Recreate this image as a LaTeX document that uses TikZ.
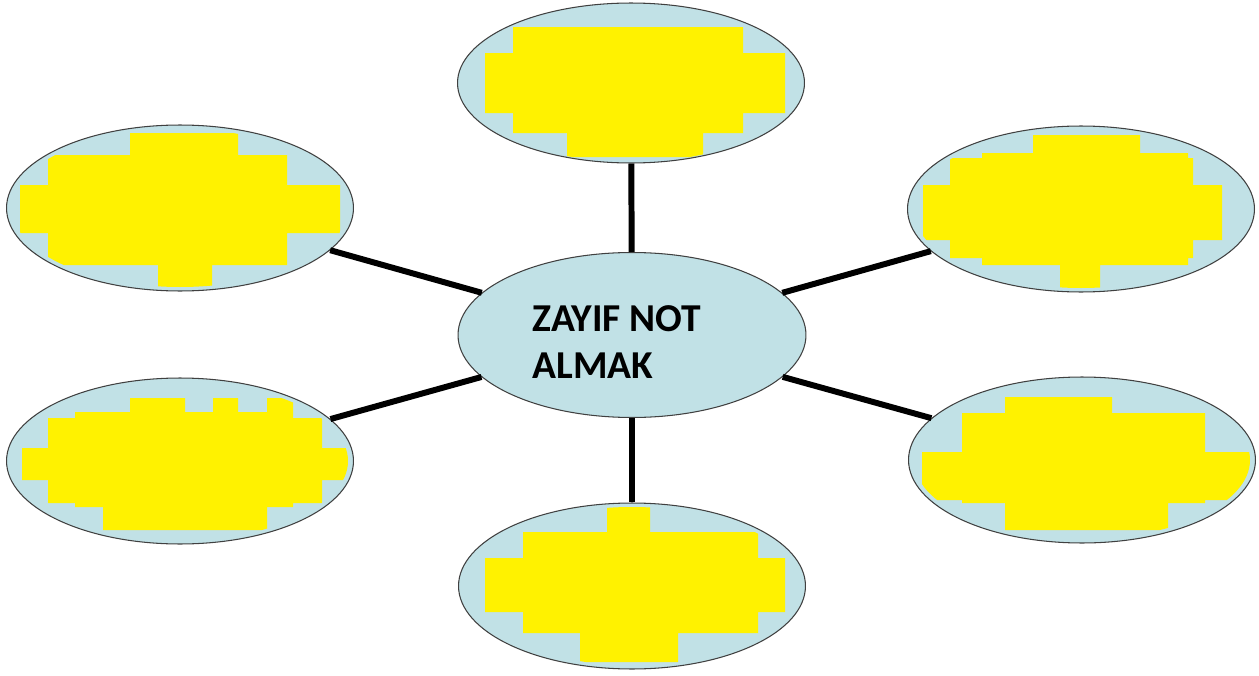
\documentclass[tikz,border=0pt]{standalone}
\usepackage{fontspec}
\setmainfont{Carlito}
\usetikzlibrary{shapes.geometric,positioning}
\definecolor{bubblecolor}{RGB}{193,225,230}
\definecolor{blobcolor}{RGB}{255,242,0}
\tikzset{
  bubble/.style={
    ellipse,
    draw=black!75,
    fill=bubblecolor,
    line width=0.6pt,
    inner sep=0pt,
    minimum width=6.94cm,
    minimum height=3.32cm
  },
  spoke/.style={
    draw=black,
    line width=3.4pt
  },
  blob/.style={
    fill=blobcolor
  }
}
% clip to the inside of a bubble
\newcommand{\bubbleclip}[1]{\clip (#1.center) ellipse [x radius=168, y radius=79];}
\begin{document}
\begin{tikzpicture}[x=0.02cm,y=-0.02cm]
  \useasboundingbox (0,0) rectangle (1259,676);

  % Centre
  \node[bubble, minimum width=6.96cm, minimum height=3.3cm] (c) at (632,335) {};
  \node[font=\bfseries\fontsize{22.5}{27}\selectfont, align=left, anchor=west,
    inner sep=0pt] (ctext) at (532,342) {ZAYIF NOT\\ALMAK};

  % Outer bubbles
  \node[bubble, minimum height=3.2cm] (t) at (631,83) {};
  \node[bubble] (tl) at (180,208) {};
  \node[bubble] (tr) at (1081,209) {};
  \node[bubble] (bl) at (180,461) {};
  \node[bubble] (br) at (1082,460) {};
  \node[bubble] (b) at (632,586) {};

  % Covered texts
  \begin{scope}
    \bubbleclip{tl}
    \fill[blob] (20,185) rectangle (340,233) (48,155) rectangle (287,265)
      (130,133) rectangle (238,160) (158,260) rectangle (212,290);
  \end{scope}
  \begin{scope}
    \bubbleclip{t}
    \fill[blob] (485,53) rectangle (785,113) (513,27) rectangle (743,133)
      (567,130) rectangle (703,157);
  \end{scope}
  \begin{scope}
    \bubbleclip{tr}
    \fill[blob] (923,185) rectangle (1222,240) (950,158) rectangle (1193,258)
      (982,153) rectangle (1188,265) (1033,135) rectangle (1140,160)
      (1060,260) rectangle (1100,288);
  \end{scope}
  \begin{scope}
    \bubbleclip{bl}
    \fill[blob] (22,448) rectangle (348,480) (48,418) rectangle (322,503)
      (75,412) rectangle (293,507) (130,398) rectangle (185,415)
      (213,398) rectangle (238,415) (267,398) rectangle (293,415)
      (103,500) rectangle (267,530);
  \end{scope}
  \begin{scope}
    \bubbleclip{b}
    \fill[blob] (485,558) rectangle (785,612) (523,532) rectangle (758,633)
      (580,630) rectangle (678,662) (607,507) rectangle (650,535);
  \end{scope}
  \begin{scope}
    \bubbleclip{br}
    \fill[blob] (922,452) rectangle (1252,500) (962,413) rectangle (1205,503)
      (1005,397) rectangle (1112,415) (1005,500) rectangle (1168,530);
  \end{scope}

  % Spokes
  \foreach \outer in {t,tl,tr,bl,br,b}
    \draw[spoke] (c) -- (\outer);
\end{tikzpicture}
\end{document}
